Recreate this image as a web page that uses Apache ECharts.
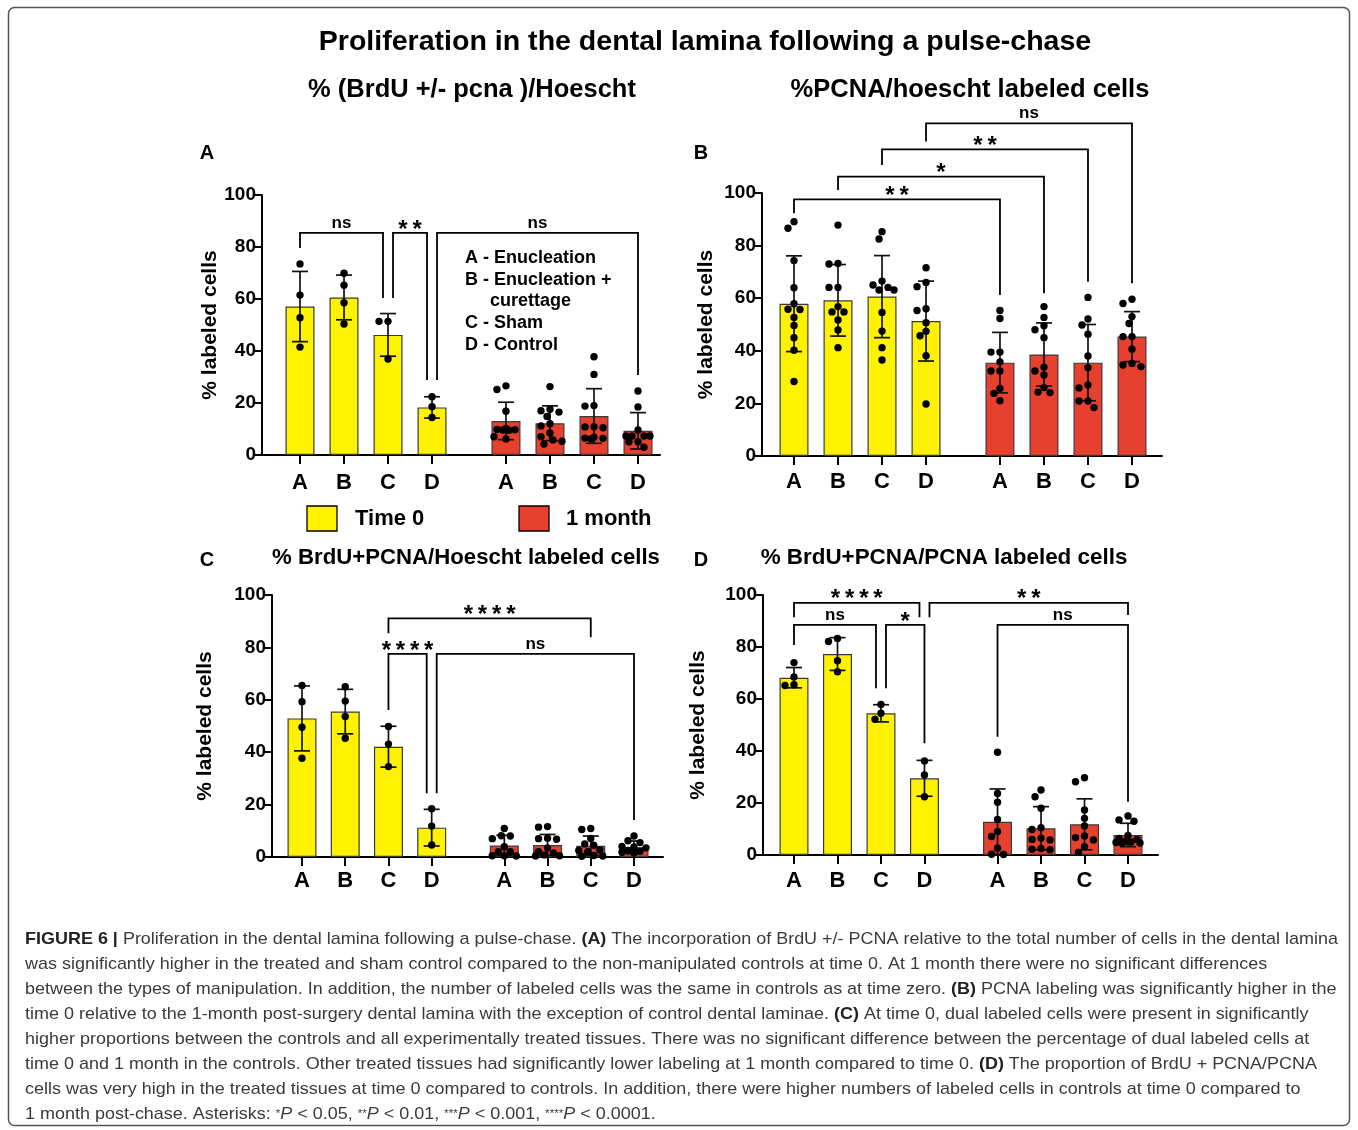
<!DOCTYPE html>
<html><head><meta charset="utf-8">
<script src="https://cdn.jsdelivr.net/npm/echarts@6/dist/echarts.min.js"></script>
<style>html,body{margin:0;padding:0;background:#fff}#c{width:1358px;height:1130px}</style>
</head><body><div id="c"></div>
<script>
// ---------------- DATA ----------------
const categories = ['A', 'B', 'C', 'D'];
const groupNames = ['Time 0', '1 month'];
const mainTitle = 'Proliferation in the dental lamina following a pulse-chase';
const yName = '% labeled cells';
const legendLines = ['A - Enucleation', 'B - Enucleation +', 'curettage', 'C - Sham', 'D - Control'];

// Panel A: % (BrdU +/- pcna)/Hoescht  (order: T0 A-D, 1mo A-D)
const meanA = [57.1, 60.6, 46.2, 18.3, 13.1, 12.2, 15.0, 9.3];
const sdA   = [13.5, 8.6, 8.2, 4.1, 7.2, 6.7, 10.5, 7.0];
const pointsA = [
  [73.5, 61.5, 52.8, 41.5],
  [69.9, 65.3, 58.6, 50.4],
  [51.4, 51.4, 36.9],
  [22.4, 18.6, 14.4],
  [26.6, 25.2, 16.8, 9.8, 9.5, 9.6, 9.7, 10.2, 6.2, 7.0],
  [26.3, 17.6, 16.5, 17.0, 14.8, 12.0, 11.2, 8.5, 5.8, 4.2, 5.3, 7.0],
  [37.8, 31.0, 19.0, 18.8, 10.9, 10.5, 10.8, 6.4, 6.2, 6.5, 6.8],
  [24.6, 18.5, 9.6, 7.3, 7.3, 7.3, 7.3, 5.1, 5.1, 3.0]
];
// significance brackets: bar indices, bracket level and leg ends (data units)
const sigA = [
  {from: 0, to: 2, fromSide: 0, toSide: -1, level: 85.4, fromEnd: 79.6, toEnd: 60.4, label: 'ns'},
  {from: 2, to: 3, fromSide: 1, toSide: -1, level: 85.4, fromEnd: 60.4, toEnd: 28.8, label: '**'},
  {from: 3, to: 7, fromSide: 1, toSide: 0, level: 85.4, fromEnd: 28.8, toEnd: 30.8, label: 'ns'}
];

// Panel B: %PCNA/hoescht labeled cells
const meanB = [57.9, 59.2, 60.6, 51.3, 35.5, 38.6, 35.5, 45.4];
const sdB   = [18.2, 13.6, 15.6, 15.2, 11.5, 12.0, 14.5, 9.5];
const pointsB = [
  [89.1, 86.6, 74.3, 64.0, 57.9, 55.7, 55.8, 52.7, 49.6, 45.0, 40.2, 28.3],
  [87.8, 73.2, 73.0, 64.1, 64.1, 56.8, 54.8, 54.8, 51.7, 47.9, 41.2],
  [85.3, 82.5, 66.5, 65.0, 64.1, 63.1, 63.1, 54.6, 47.5, 41.2, 36.5],
  [71.6, 66.0, 64.4, 56.0, 55.3, 50.7, 47.4, 45.7, 38.1, 19.8],
  [55.3, 52.3, 39.5, 39.5, 35.8, 32.3, 32.3, 25.7, 23.8, 21.0],
  [56.8, 52.7, 49.5, 48.0, 45.0, 33.8, 32.3, 30.8, 26.0, 24.3, 24.1],
  [60.3, 52.1, 49.8, 46.3, 38.0, 33.6, 27.0, 25.9, 20.9, 20.9, 18.4],
  [59.6, 58.0, 53.0, 50.4, 45.4, 45.4, 40.6, 35.2, 34.6, 34.0]
];
const sigB = [
  {from: 0, to: 4, fromSide: 0, toSide: 0, level: 97.6, fromEnd: 92.3, toEnd: 61.2, label: '**'},
  {from: 1, to: 5, fromSide: 0, toSide: 0, level: 106.2, fromEnd: 101.1, toEnd: 61.9, label: '*'},
  {from: 2, to: 6, fromSide: 0, toSide: 0, level: 116.6, fromEnd: 110.6, toEnd: 66.3, label: '**'},
  {from: 3, to: 7, fromSide: 0, toSide: 0, level: 126.5, fromEnd: 119.6, toEnd: 65.7, label: 'ns'}
];

// Panel C: % BrdU+PCNA/Hoescht labeled cells
const meanC = [52.9, 55.5, 42.1, 11.2, 4.4, 4.6, 4.3, 3.7];
const sdC   = [12.4, 8.5, 7.8, 7.0, 3.9, 4.0, 3.7, 2.4];
const pointsC = [
  [65.5, 59.3, 49.5, 37.7],
  [65.0, 59.5, 53.6, 45.3],
  [49.8, 43.1, 34.5],
  [18.4, 11.8, 4.6],
  [10.9, 8.1, 8.0, 7.0, 3.9, 2.0, 2.0, 0.5, 0.4, 0.5],
  [11.6, 11.4, 7.2, 7.0, 6.8, 2.0, 3.5, 1.5, 0.8, 0.4, 0.5],
  [10.9, 10.5, 7.1, 5.0, 4.5, 2.7, 2.5, 0.6, 0.4, 0.3, 2.0],
  [8.0, 6.2, 5.5, 4.0, 3.8, 3.5, 2.5, 2.2, 1.8, 1.5]
];
const sigC = [
  {from: 2, to: 6, fromSide: 0, toSide: 0, level: 91.1, fromEnd: 85.4, toEnd: 83.9, label: '****'},
  {from: 2, to: 3, fromSide: 0, toSide: -1, level: 77.5, fromEnd: 56.1, toEnd: 24.3, label: '****'},
  {from: 3, to: 7, fromSide: 1, toSide: 0, level: 77.5, fromEnd: 24.3, toEnd: 14.1, label: 'ns'}
];

// Panel D: % BrdU+PCNA/PCNA labeled cells
const meanD = [68.2, 77.3, 54.5, 29.5, 12.8, 10.3, 11.8, 7.7];
const sdD   = [3.9, 6.3, 3.3, 6.9, 12.6, 8.3, 9.8, 4.5];
const pointsD = [
  [74.0, 68.5, 65.2, 65.5],
  [83.3, 82.1, 74.7, 70.5],
  [57.9, 54.5, 52.2],
  [36.2, 30.8, 22.4],
  [39.5, 23.7, 20.3, 13.7, 9.0, 7.1, 2.6, 0.3, 0.2],
  [25.0, 22.4, 18.0, 10.5, 9.8, 6.5, 6.0, 5.8, 2.5, 2.0, 2.2],
  [29.7, 28.2, 17.3, 14.1, 11.2, 7.3, 6.7, 5.8, 3.2, 1.0],
  [15.0, 13.5, 13.0, 7.5, 6.4, 6.0, 5.2, 5.0, 4.8, 4.5, 4.6]
];
const sigD = [
  {from: 0, to: 3, fromSide: 0, toSide: -1, level: 97.0, fromEnd: 91.4, toEnd: 91.4, label: '****'},
  {from: 0, to: 2, fromSide: 0, toSide: -1, level: 88.5, fromEnd: 80.8, toEnd: 64.1, label: 'ns'},
  {from: 2, to: 3, fromSide: 1, toSide: 0, level: 88.5, fromEnd: 64.1, toEnd: 43.0, label: '*'},
  {from: 3, to: 7, fromSide: 1, toSide: 0, level: 97.0, fromEnd: 91.4, toEnd: 92.3, label: '**'},
  {from: 4, to: 7, fromSide: 0, toSide: 0, level: 88.5, fromEnd: 45.5, toEnd: 20.5, label: 'ns'}
];

const captionLines = [
  '{b|FIGURE 6 |} Proliferation in the dental lamina following a pulse-chase. {b|(A)} The incorporation of BrdU +/- PCNA relative to the total number of cells in the dental lamina',
  'was significantly higher in the treated and sham control compared to the non-manipulated controls at time 0. At 1 month there were no significant differences',
  'between the types of manipulation. In addition, the number of labeled cells was the same in controls as at time zero. {b|(B)} PCNA labeling was significantly higher in the',
  'time 0 relative to the 1-month post-surgery dental lamina with the exception of control dental laminae. {b|(C)} At time 0, dual labeled cells were present in significantly',
  'higher proportions between the controls and all experimentally treated tissues. There was no significant difference between the percentage of dual labeled cells at',
  'time 0 and 1 month in the controls. Other treated tissues had significantly lower labeling at 1 month compared to time 0. {b|(D)} The proportion of BrdU + PCNA/PCNA',
  'cells was very high in the treated tissues at time 0 compared to controls. In addition, there were higher numbers of labeled cells in controls at time 0 compared to',
  '1 month post-chase. Asterisks: {s|*}{i|P} < 0.05, {s|**}{i|P} < 0.01, {s|***}{i|P} < 0.001, {s|****}{i|P} < 0.0001.'
];

// ---------------- LAYOUT / STYLE ----------------
const FONT = '"Liberation Sans", Arial, Helvetica, sans-serif';
const YELLOW = '#FFF200', RED = '#E8402F';
const GROUP_STEP = 4.68;   // x offset of the 2nd group (in bar-spacing units)
const panels = [
  {title: '% (BrdU +/- pcna )/Hoescht', tx: 472, ty: 90, tw: 328, letter: 'A', lx: 207, ly: 153,
   grid: {left: 262, top: 195, width: 398, height: 260}, pad: [38, 22], nameGap: 37, xMargin: 17,
   mean: meanA, sd: sdA, points: pointsA, sig: sigA},
  {title: '%PCNA/hoescht labeled cells', tx: 970, ty: 90, tw: 359, letter: 'B', lx: 701, ly: 153,
   grid: {left: 762, top: 193, width: 400, height: 263}, pad: [32, 30], nameGap: 45, xMargin: 15,
   mean: meanB, sd: sdB, points: pointsB, sig: sigB},
  {title: '% BrdU+PCNA/Hoescht labeled cells', tx: 466, ty: 558, tw: 388, letter: 'C', lx: 207, ly: 560,
   grid: {left: 272, top: 595, width: 391, height: 262}, pad: [30, 29], nameGap: 56, xMargin: 13,
   mean: meanC, sd: sdC, points: pointsC, sig: sigC},
  {title: '% BrdU+PCNA/PCNA labeled cells', tx: 944, ty: 558, tw: 367, letter: 'D', lx: 701, ly: 560,
   grid: {left: 763, top: 595, width: 395, height: 260}, pad: [31, 30], nameGap: 54, xMargin: 15,
   mean: meanD, sd: sdD, points: pointsD, sig: sigD}
];

const mctx = document.createElement('canvas').getContext('2d');
function textW(t, font) { mctx.font = font; return mctx.measureText(t).width; }
function fitSize(t, weight, target) { return 100 * target / textW(t, weight + ' 100px ' + FONT); }

// beeswarm-like horizontal offsets (px) so that dots do not overlap
function swarm(vals, pxPerUnit, d, maxW, step) {
  const order = vals.map((v, i) => i).sort((a, b) => vals[b] - vals[a]);
  const placed = [];
  const off = new Array(vals.length).fill(0);
  const nCand = 2 * Math.floor(maxW / step);
  order.forEach(i => {
    const y = vals[i] * pxPerUnit;
    let best = 0, bestScore = -1;
    for (let k = 0; k <= nCand; k++) {
      const c = k === 0 ? 0 : ((k % 2) ? -1 : 1) * Math.ceil(k / 2) * step;
      let md = Infinity;
      placed.forEach(q => { md = Math.min(md, Math.hypot(c - q[0], y - q[1])); });
      if (md >= d) { best = c; bestScore = Infinity; break; }
      if (md > bestScore) { bestScore = md; best = c; }
    }
    off[i] = best;
    placed.push([best, y]);
  });
  return off;
}

const grids = [], xAxes = [], yAxes = [], series = [], graphics = [];
const tickFont = {color: '#000', fontWeight: 'bold', fontFamily: FONT};

panels.forEach((p, k) => {
  const pos = p.mean.map((_, i) => (i % 4) + Math.floor(i / 4) * GROUP_STEP);
  const span = pos[pos.length - 1];
  const unit = (p.grid.width - p.pad[0] - p.pad[1]) / span;
  const xMin = -p.pad[0] / unit, xMax = span + p.pad[1] / unit;
  grids.push(Object.assign({containLabel: false}, p.grid));
  xAxes.push({
    gridIndex: k, type: 'value', min: xMin, max: xMax,
    axisLine: {show: true, onZero: false, lineStyle: {color: '#000', width: 2}},
    axisTick: {show: true, customValues: pos, length: 9, lineStyle: {color: '#000', width: 2}},
    axisLabel: Object.assign({customValues: pos, fontSize: 22, margin: p.xMargin,
      formatter: v => { const i = pos.findIndex(q => Math.abs(q - v) < 1e-6); return i >= 0 ? categories[i % 4] : ''; }}, tickFont),
    splitLine: {show: false}
  });
  yAxes.push({
    gridIndex: k, type: 'value', min: 0, max: 100, interval: 20,
    name: yName, nameLocation: 'middle', nameRotate: 90, nameGap: p.nameGap,
    nameTextStyle: {fontSize: 21, fontWeight: 'bold', color: '#000', fontFamily: FONT},
    axisLine: {show: true, onZero: false, lineStyle: {color: '#000', width: 2}},
    axisTick: {show: true, length: 7, lineStyle: {color: '#000', width: 2}},
    axisLabel: Object.assign({fontSize: 19, margin: 6}, tickFont),
    splitLine: {show: false}
  });
  // bars
  [0, 1].forEach(g => {
    series.push({
      type: 'bar', name: groupNames[g], xAxisIndex: k, yAxisIndex: k, barWidth: 29, barGap: '-100%', z: 2,
      itemStyle: {color: g === 0 ? YELLOW : RED, borderColor: '#3a3a3a', borderWidth: 1.2},
      data: pos.map((x, i) => [x, p.mean[i]]).filter((_, i) => Math.floor(i / 4) === g),
      animation: false
    });
  });
  // error bars (mean ± SD)
  series.push({
    type: 'custom', xAxisIndex: k, yAxisIndex: k, z: 3, clip: false, animation: false,
    encode: {x: 0, y: 1},
    data: pos.map((x, i) => [x, p.mean[i], p.sd[i]]),
    renderItem: (params, api) => {
      const x = api.value(0), m = api.value(1), s = api.value(2);
      const t = api.coord([x, m + s]), b = api.coord([x, Math.max(0, m - s)]);
      const hw = 8, st = {stroke: '#111', lineWidth: 1.7};
      return {type: 'group', children: [
        {type: 'line', shape: {x1: t[0], y1: t[1], x2: b[0], y2: b[1]}, style: st},
        {type: 'line', shape: {x1: t[0] - hw, y1: t[1], x2: t[0] + hw, y2: t[1]}, style: st},
        {type: 'line', shape: {x1: b[0] - hw, y1: b[1], x2: b[0] + hw, y2: b[1]}, style: st}
      ]};
    }
  });
  // individual points
  const pxPerUnit = p.grid.height / 100;
  const dots = [];
  p.points.forEach((vals, i) => {
    const off = swarm(vals, pxPerUnit, 7.4, 13, 3);
    vals.forEach((v, j) => dots.push([pos[i], v, off[j]]));
  });
  series.push({
    type: 'custom', xAxisIndex: k, yAxisIndex: k, z: 4, clip: false, animation: false,
    encode: {x: 0, y: 1}, data: dots,
    renderItem: (params, api) => {
      const c = api.coord([api.value(0), api.value(1)]);
      return {type: 'circle', shape: {cx: c[0] + api.value(2), cy: c[1], r: 3.7}, style: {fill: '#000'}};
    }
  });
  // significance brackets
  const sig = p.sig;
  series.push({
    type: 'custom', xAxisIndex: k, yAxisIndex: k, z: 5, clip: false, animation: false,
    data: sig.map(b => [pos[b.from], pos[b.to], b.level, b.fromEnd, b.toEnd, b.fromSide, b.toSide]),
    renderItem: (params, api) => {
      const b = sig[params.dataIndex];
      const sh = 5;
      const l = api.coord([api.value(0), api.value(2)]);
      const r = api.coord([api.value(1), api.value(2)]);
      const x1 = l[0] + api.value(5) * sh, x2 = r[0] + api.value(6) * sh;
      const y1 = api.coord([0, api.value(3)])[1], y2 = api.coord([0, api.value(4)])[1];
      const isStar = b.label.indexOf('*') >= 0;
      const txt = isStar ? b.label.split('').join('\u2009') : b.label;
      return {type: 'group', children: [
        {type: 'polyline', shape: {points: [[x1, y1], [x1, l[1]], [x2, l[1]], [x2, y2]]},
         style: {stroke: '#000', lineWidth: 1.8, fill: null}},
        {type: 'text', style: {text: txt, x: (x1 + x2) / 2, y: l[1] - (isStar ? 3 : 10),
          align: 'center', textAlign: 'center', verticalAlign: 'middle', textVerticalAlign: 'middle',
          fontSize: isStar ? 24 : 17, fontWeight: 'bold', fontFamily: FONT, fill: '#000'}}
      ]};
    }
  });
  // titles & panel letters
  const ts = fitSize(p.title, 'bold', p.tw);
  graphics.push({type: 'text', x: p.tx, y: p.ty, style: {text: p.title, align: 'center', textAlign: 'center', verticalAlign: 'middle', textVerticalAlign: 'middle',
    fontSize: ts, fontWeight: 'bold', fontFamily: FONT, fill: '#000'}});
  graphics.push({type: 'text', x: p.lx, y: p.ly, style: {text: p.letter, align: 'center', textAlign: 'center', verticalAlign: 'middle', textVerticalAlign: 'middle',
    fontSize: 20, fontWeight: 'bold', fontFamily: FONT, fill: '#000'}});
});

// main title
graphics.push({type: 'text', x: 705, y: 42, style: {text: mainTitle, align: 'center', textAlign: 'center', verticalAlign: 'middle', textVerticalAlign: 'middle',
  fontSize: fitSize(mainTitle, 'bold', 773), fontWeight: 'bold', fontFamily: FONT, fill: '#000'}});

// key legend in panel A
const legYs = [258, 280, 301, 323, 345];
legendLines.forEach((t, i) => {
  graphics.push({type: 'text', x: i === 2 ? 490 : 465, y: legYs[i], style: {text: t, align: 'left', textAlign: 'left', verticalAlign: 'middle', textVerticalAlign: 'middle',
    fontSize: 18, fontWeight: 'bold', fontFamily: FONT, fill: '#000'}});
});

// group legend
[[307, YELLOW, 355], [519, RED, 566]].forEach(([x, col, tx], g) => {
  graphics.push({type: 'rect', shape: {x: x, y: 506, width: 30, height: 25}, style: {fill: col, stroke: '#000', lineWidth: 1.3}});
  graphics.push({type: 'text', x: tx, y: 519, style: {text: groupNames[g], align: 'left', textAlign: 'left', verticalAlign: 'middle', textVerticalAlign: 'middle',
    fontSize: 22, fontWeight: 'bold', fontFamily: FONT, fill: '#000'}});
});

// caption
const CAP = 17;
function richWidth(str) {
  let w = 0; const re = /\{(\w)\|([^}]*)\}|([^{]+)/g; let m;
  while ((m = re.exec(str))) {
    if (m[3] !== undefined) w += textW(m[3], CAP + 'px ' + FONT);
    else {
      const st = m[1];
      const f = (st === 'b' ? 'bold ' : st === 'i' ? 'italic ' : '') + (st === 's' ? 11 : CAP) + 'px ' + FONT;
      w += textW(m[2], f);
    }
  }
  return w;
}
const capScale = 1313 / richWidth(captionLines[0]);
captionLines.forEach((t, i) => {
  graphics.push({type: 'text', x: 25, y: 939 + i * 25, scaleX: capScale, originX: 0, originY: 0,
    style: {text: t, align: 'left', textAlign: 'left', verticalAlign: 'middle', textVerticalAlign: 'middle',
      fontSize: CAP, fontFamily: FONT, fill: '#3a3a3a',
      rich: {b: {fontWeight: 'bold', fontSize: CAP, fontFamily: FONT, fill: '#222', color: '#222'},
             i: {fontStyle: 'italic', fontSize: CAP, fontFamily: FONT},
             s: {fontSize: 11, fontFamily: FONT}}}});
});

// outer frame
graphics.push({type: 'rect', z: -1, shape: {x: 8.5, y: 7.5, width: 1341, height: 1118, r: 6},
  style: {fill: null, stroke: '#555', lineWidth: 1.5}});

const chart = echarts.init(document.getElementById('c'), null, {renderer: 'canvas'});
chart.setOption({
  animation: false,
  backgroundColor: '#fff',
  grid: grids, xAxis: xAxes, yAxis: yAxes, series: series,
  graphic: {elements: graphics}
});
</script></body></html>
